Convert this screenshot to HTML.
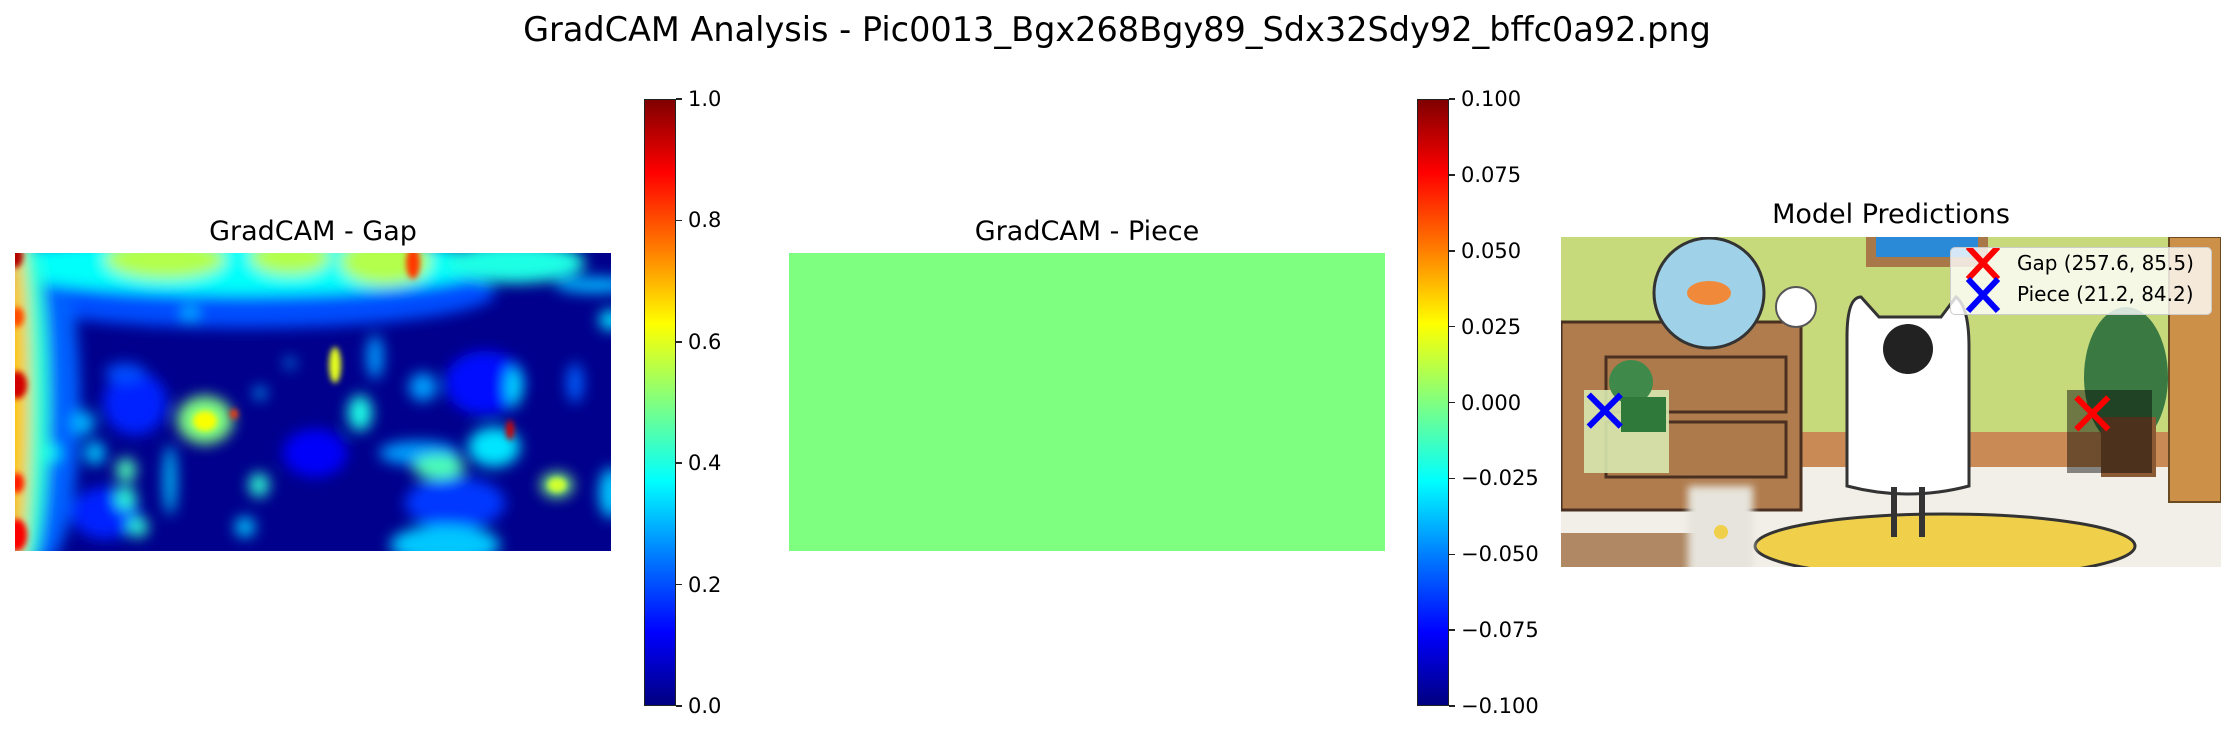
<!DOCTYPE html>
<html><head><meta charset="utf-8">
<style>
html,body{margin:0;padding:0;background:#fff;}
#root{position:relative;width:2235px;height:732px;overflow:hidden;font-family:"DejaVu Sans","Liberation Sans",sans-serif;color:#000;}
.abs{position:absolute;}
.title{font-size:33.5px;line-height:40px;white-space:nowrap;transform:translateX(-50%);}
.sub{font-size:27px;line-height:32px;white-space:nowrap;transform:translateX(-50%);}
.cbar{background:linear-gradient(to top,#000080 0%,#0000ff 12%,#0080ff 25%,#00ffff 37%,#80ff80 50%,#ffff00 63%,#ff8000 75%,#ff0000 88%,#800000 100%);border:1.5px solid #222;box-sizing:border-box;}
.tick{height:1.5px;width:6px;background:#222;}
.tl{font-size:21px;white-space:nowrap;transform:translateY(-50%);}
</style></head><body>
<div id="root">
<div class="abs title" style="left:1117px;top:10px">GradCAM Analysis - Pic0013_Bgx268Bgy89_Sdx32Sdy92_bffc0a92.png</div>

<div class="abs sub" style="left:313px;top:216px">GradCAM - Gap</div>
<svg class="abs" style="left:15px;top:253px" width="596" height="298" viewBox="0 0 596 298">
<defs><filter id="bl" filterUnits="userSpaceOnUse" x="-60" y="-60" width="720" height="420"><feGaussianBlur stdDeviation="7"/></filter>
<filter id="bs" filterUnits="userSpaceOnUse" x="-60" y="-60" width="720" height="420"><feGaussianBlur stdDeviation="3"/></filter>
<clipPath id="hc"><rect width="596" height="298"/></clipPath></defs>
<g clip-path="url(#hc)"><rect width="596" height="298" fill="#00008c"/><g id="blobs" filter="url(#bl)"></g><g id="blobs2" filter="url(#bs)"></g></g>
</svg>
<div class="abs cbar" style="left:644px;top:99px;width:32px;height:607px"></div>
<div id="cb1"></div>

<div class="abs sub" style="left:1087px;top:216px">GradCAM - Piece</div>
<div class="abs" style="left:789px;top:253px;width:596px;height:298px;background:#7fff7f"></div>
<div class="abs cbar" style="left:1417px;top:99px;width:32px;height:607px"></div>
<div id="cb2"></div>

<div class="abs sub" style="left:1891px;top:199px">Model Predictions</div>
<svg class="abs" style="left:1561px;top:237px" width="660" height="330" viewBox="0 0 660 330">
<defs><filter id="cb"><feGaussianBlur stdDeviation="4"/></filter></defs>
<rect width="660" height="330" fill="#c6da7c"/>
<rect x="305" y="0" width="122" height="30" fill="#a87848"/><rect x="315" y="0" width="102" height="20" fill="#2a8ad8"/>
<rect x="0" y="195" width="660" height="40" fill="#c98a55"/>
<rect x="0" y="230" width="660" height="100" fill="#f2efe8"/>
<rect x="0" y="296" width="140" height="34" fill="#b08864"/>
<ellipse cx="384" cy="309" rx="190" ry="32" fill="#f0d04a" stroke="#333" stroke-width="3"/>
<rect x="0" y="85" width="240" height="188" fill="#b07c4e" stroke="#4a3020" stroke-width="3"/>
<rect x="45" y="120" width="180" height="55" fill="#ad7a4c" stroke="#4a3020" stroke-width="3"/>
<rect x="45" y="185" width="180" height="55" fill="#ad7a4c" stroke="#4a3020" stroke-width="3"/>
<circle cx="148" cy="56" r="55" fill="#9fd2e8" stroke="#333" stroke-width="3"/>
<ellipse cx="148" cy="56" rx="22" ry="12" fill="#f08a3a"/>
<circle cx="235" cy="70" r="20" fill="#fff" stroke="#555" stroke-width="2"/>
<rect x="608" y="0" width="52" height="265" fill="#cc9048" stroke="#6a4a20" stroke-width="2"/>
<ellipse cx="565" cy="140" rx="42" ry="70" fill="#3a7a42"/>
<rect x="540" y="180" width="55" height="60" fill="#8a5a34"/>
<rect x="506" y="153" width="85" height="83" fill="#000" opacity="0.45"/>
<rect x="23" y="153" width="85" height="83" fill="#d8e8b0" opacity="0.9"/>
<circle cx="70" cy="145" r="22" fill="#3f8a4a"/><rect x="60" y="160" width="45" height="35" fill="#2f7a3a"/>
<path d="M286 249 L286 100 Q286 60 300 60 L318 80 L380 80 L395 60 Q408 70 408 110 L408 249 Q347 265 286 249 Z" fill="#fff" stroke="#333" stroke-width="3"/>
<circle cx="347" cy="112" r="25" fill="#222"/>
<rect x="330" y="250" width="6" height="50" fill="#333"/><rect x="358" y="250" width="6" height="50" fill="#333"/>
<rect x="127" y="249" width="65" height="90" fill="#e6e4dc" filter="url(#cb)"/>
<circle cx="160" cy="295" r="7" fill="#f0d04a"/>
<g id="markers"></g>
</svg>
<div class="abs" style="left:1950px;top:247px;width:260px;height:66px;background:rgba(255,255,255,0.8);border:1.5px solid #ccc;border-radius:5px">
 <svg class="abs" style="left:14px;top:0" width="40" height="66">
  <path d="M3 -1 L33 31 M33 -1 L3 31" stroke="#ff0000" stroke-width="6"/>
  <path d="M3 31 L33 63 M33 31 L3 63" stroke="#0000ff" stroke-width="6"/>
 </svg>
 <div class="abs" style="left:66px;top:3px;font-size:20px;white-space:nowrap">Gap (257.6, 85.5)</div>
 <div class="abs" style="left:66px;top:34px;font-size:20px;white-space:nowrap">Piece (21.2, 84.2)</div>
</div>
</div>
<script>
const cb1Ticks=[0,0.2,0.4,0.6,0.8,1.0];
const cb1Labels=["0.0","0.2","0.4","0.6","0.8","1.0"];
const cb2Ticks=[-0.1,-0.075,-0.05,-0.025,0,0.025,0.05,0.075,0.1];
const cb2Labels=["\u22120.100","\u22120.075","\u22120.050","\u22120.025","0.000","0.025","0.050","0.075","0.100"];
const gapPred=[257.6,85.5];
const piecePred=[21.2,84.2];
// heatmap blobs: x, y, rx, ry, value (0..1)
const blobsBig=[
[230,40,250,35,0.2],[30,150,35,160,0.22],[230,12,250,30,0.38],[150,6,60,20,0.55],[275,4,40,18,0.55],[370,8,45,24,0.55],[500,10,70,20,0.4],[580,32,40,8,0.3],
[10,150,24,170,0.42],[0,150,14,170,0.68],
[120,150,32,32,0.16],[300,200,32,24,0.12],[470,130,40,32,0.14],[90,260,34,26,0.16],[440,250,50,26,0.18],
[430,292,55,20,0.32],
[190,167,28,24,0.5],[479,194,26,20,0.35],[424,214,26,12,0.45],[404,200,40,12,0.28],[542,232,16,12,0.5],[111,217,10,12,0.45],
[111,245,10,12,0.42],[80,200,10,12,0.32],[68,170,12,12,0.3],[36,200,8,8,0.38],[244,232,10,12,0.42],[596,67,12,10,0.35],
[596,240,12,25,0.32],[499,134,7,20,0.35],[360,104,8,22,0.28],[408,134,14,14,0.28],[155,227,6,35,0.32],[123,274,10,10,0.42],
[230,274,10,10,0.32],[345,160,12,18,0.4],[560,130,8,20,0.22],[275,110,5,5,0.3],[245,140,6,6,0.3],[175,60,8,8,0.3],[110,120,20,10,0.2]];
const blobsSmall=[[320,112,6,18,0.6],[190,168,12,10,0.62],[219,161,4,5,0.82],[495,177,4,10,0.92],[0,3,8,12,0.95],[2,64,7,10,0.8],[2,132,10,14,0.92],[2,230,7,10,0.85],[2,282,10,16,0.88],[398,10,7,16,0.82],[542,232,9,7,0.58]];
function jet(v){
  const r=Math.min(Math.max(Math.min(4*v-1.5,-4*v+4.5),0),1);
  const g=Math.min(Math.max(Math.min(4*v-0.5,-4*v+3.5),0),1);
  const b=Math.min(Math.max(Math.min(4*v+0.5,-4*v+2.5),0),1);
  return `rgb(${Math.round(r*255)},${Math.round(g*255)},${Math.round(b*255)})`;
}
const NS="http://www.w3.org/2000/svg";
function drawBlobs(arr,id){
  const g=document.getElementById(id);
  arr.slice().sort((a,b)=>a[4]-b[4]).forEach(b=>{
    const e=document.createElementNS(NS,'ellipse');
    
    
    e.setAttribute('cx',b[0]);e.setAttribute('cy',b[1]);e.setAttribute('rx',b[2]);e.setAttribute('ry',b[3]);
    e.setAttribute('fill',jet(b[4]));g.appendChild(e);
  });
}
drawBlobs(blobsBig,'blobs');drawBlobs(blobsSmall,'blobs2');
function drawTicks(id,ticks,labels,vmin,vmax,left){
  const c=document.getElementById(id);const top=99,h=607;
  ticks.forEach((v,i)=>{
    const y=top+h-(v-vmin)/(vmax-vmin)*h;
    const t=document.createElement('div');
    
    
    t.className='abs tick';t.style.left=left+'px';t.style.top=(y-0.75)+'px';c.appendChild(t);
    const l=document.createElement('div');
    
    
    l.className='abs tl';l.style.left=(left+12)+'px';l.style.top=y+'px';l.textContent=labels[i];c.appendChild(l);
  });
}
drawTicks('cb1',cb1Ticks,cb1Labels,0,1,676);
drawTicks('cb2',cb2Ticks,cb2Labels,-0.1,0.1,1449);
const sx=v=>v*660/320, sy=v=>v*330/160;
function marker(p,color,name){
  const g=document.getElementById('markers');
  const e=document.createElementNS(NS,'path');
  
  
  const x=sx(p[0]),y=sy(p[1]),s=16;
  e.setAttribute('d',`M${x-s} ${y-s} L${x+s} ${y+s} M${x+s} ${y-s} L${x-s} ${y+s}`);
  e.setAttribute('stroke',color);e.setAttribute('stroke-width','6');g.appendChild(e);
}
marker(gapPred,'#ff0000','gap-marker');marker(piecePred,'#0000ff','piece-marker');
</script>
</body></html>
